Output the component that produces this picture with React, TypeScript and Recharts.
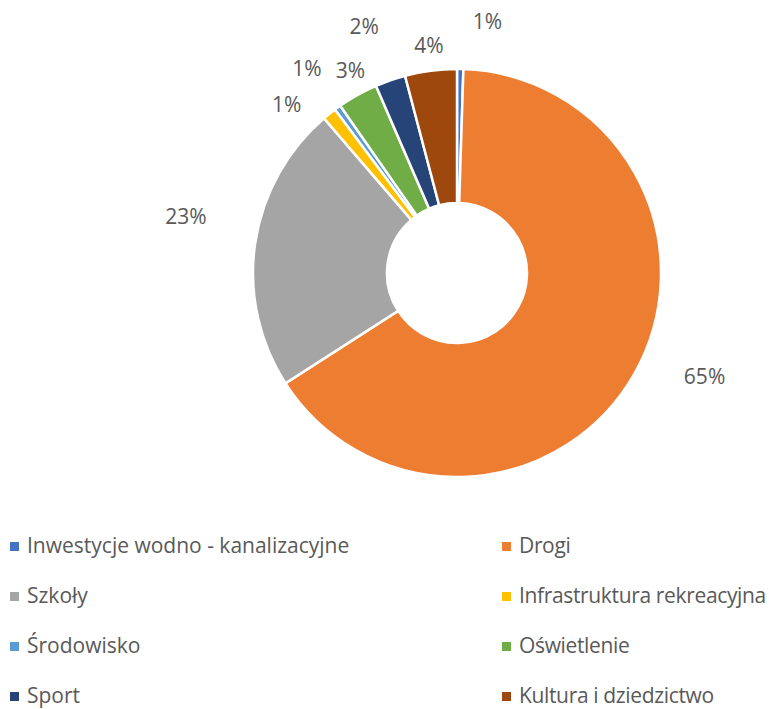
import { PieChart, Pie, Cell, Legend } from 'recharts';

const categories = [
  'Inwestycje wodno - kanalizacyjne',
  'Drogi',
  'Szkoły',
  'Infrastruktura rekreacyjna',
  'Środowisko',
  'Oświetlenie',
  'Sport',
  'Kultura i dziedzictwo',
];
const shares = [0.5, 65.4, 22.8, 1.1, 0.5, 3.2, 2.4, 4.1];
const colors = ['#4472C4', '#ED7D31', '#A5A5A5', '#FFC000', '#5B9BD5', '#70AD47', '#264478', '#9E480E'];

// label placement tweaks (clockwise angle shift in deg, distance from centre)
const labelShift = [6, -7, 3.7, -6.5, -0.4, 1.4, -1.5, 0.4];
const labelDist = [254, 268, 277, 240, 254, 229, 264, 230];

const data = categories.map((name, i) => ({ name, value: shares[i] }));

const FONT = '"Open Sans", sans-serif';
const RAD = Math.PI / 180;

const renderLabel = (p: any) => {
  const i = p.index;
  const a = (p.midAngle - labelShift[i]) * RAD;
  const x = p.cx + labelDist[i] * Math.cos(-a);
  const y = p.cy + labelDist[i] * Math.sin(-a);
  return (
    <text x={x} y={y} textAnchor="middle" dominantBaseline="central" fill="#595959" fontSize={21} fontFamily={FONT}>
      {Math.round(p.percent * 100 + 1e-6)}%
    </text>
  );
};

const LegendBox = () => (
  <div
    style={{
      display: 'grid',
      gridTemplateColumns: '492px 277px',
      fontFamily: FONT,
      fontSize: 21,
      lineHeight: 1.2,
      color: '#595959',
    }}
  >
    {categories.map((c, i) => (
      <div key={c} style={{ height: 50, display: 'flex', alignItems: 'center', whiteSpace: 'nowrap' }}>
        <span style={{ width: 9, height: 9, marginLeft: 2, marginRight: 8, background: colors[i], display: 'inline-block', flex: 'none' }} />
        <span style={{ letterSpacing: i % 2 ? -0.35 : 0 }}>{c}</span>
      </div>
    ))}
  </div>
);

export default function App() {
  return (
    <div style={{ width: 769, height: 701 }}>
      <PieChart width={769} height={701}>
        <Pie
          data={data}
          dataKey="value"
          nameKey="name"
          cx={444}
          cy={260}
          innerRadius={70}
          outerRadius={204}
          startAngle={90}
          endAngle={-270}
          stroke="#fff"
          strokeWidth={2.5}
          label={renderLabel}
          labelLine={false}
          isAnimationActive={false}
        >
          {data.map((d, i) => (
            <Cell key={d.name} fill={colors[i]} />
          ))}
        </Pie>
        <Legend content={<LegendBox />} wrapperStyle={{ left: 0, top: 513, width: 769 }} />
      </PieChart>
    </div>
  );
}
